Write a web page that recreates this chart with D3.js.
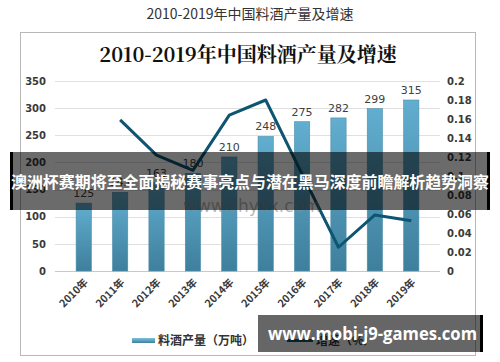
<!DOCTYPE html>
<html>
<head>
<meta charset="utf-8">
<script src="https://cdn.jsdelivr.net/npm/d3@7"></script>
<style>
  body { margin: 0; background: #fff; }
  svg { display: block; }
</style>
</head>
<body>
<div id="chart"></div>
<script>
// chart data
var years = ['2010年', '2011年', '2012年', '2013年', '2014年', '2015年', '2016年', '2017年', '2018年', '2019年'];
var output = [125, 145, 163, 180, 210, 248, 275, 282, 299, 315];
var growth = [null, 0.159, 0.122, 0.106, 0.164, 0.180, 0.102, 0.025, 0.059, 0.053];
var leftTicks = [0, 50, 100, 150, 200, 250, 300, 350];
var rightTicks = [0, 0.02, 0.04, 0.06, 0.08, 0.1, 0.12, 0.14, 0.16, 0.18, 0.2];

var W = 500, H = 362;
var plot = {left: 55, right: 440, top: 81, bottom: 271};

var svg = d3.select('#chart').append('svg')
    .attr('width', W)
    .attr('height', H);

var defs = svg.append('defs');
var grad = defs.append('linearGradient')
    .attr('id', 'barGrad')
    .attr('x1', 0).attr('y1', 0).attr('x2', 0).attr('y2', 1);
grad.append('stop').attr('offset', '0%').attr('stop-color', '#62aed0');
grad.append('stop').attr('offset', '100%').attr('stop-color', '#3e7f9c');
var lgrad = defs.append('linearGradient')
    .attr('id', 'legGrad')
    .attr('x1', 0).attr('y1', 0).attr('x2', 0).attr('y2', 1);
lgrad.append('stop').attr('offset', '0%').attr('stop-color', '#7fc0dc');
lgrad.append('stop').attr('offset', '100%').attr('stop-color', '#3e7f9c');

// outer title
svg.append('text')
    .attr('x', 250).attr('y', 19)
    .attr('text-anchor', 'middle')
    .attr('font-family', 'Noto Sans CJK SC')
    .attr('font-size', '14px')
    .attr('fill', '#333')
    .text('2010-2019年中国料酒产量及增速');

// chart frame
svg.append('rect')
    .attr('x', 20.5).attr('y', 32.5)
    .attr('width', 455).attr('height', 323)
    .attr('fill', '#fff')
    .attr('stroke', '#b8b8b8');

// inner title
svg.append('text')
    .attr('x', 248).attr('y', 62)
    .attr('text-anchor', 'middle')
    .attr('font-family', 'Noto Serif CJK SC, Noto Sans CJK SC')
    .attr('font-weight', 'bold')
    .attr('font-size', '20px')
    .attr('fill', '#111')
    .text('2010-2019年中国料酒产量及增速');

// scales
var x = d3.scaleBand().domain(years).range([plot.left, plot.right]).padding(0.58);
var y = d3.scaleLinear().domain([0, 350]).range([plot.bottom, plot.top]);
var y2 = d3.scaleLinear().domain([0, 0.2]).range([plot.bottom, plot.top]);

// gridlines
svg.append('g').selectAll('line')
    .data(leftTicks)
  .enter().append('line')
    .attr('x1', plot.left).attr('x2', plot.right)
    .attr('y1', function(d) { return Math.round(y(d)) + 0.5; })
    .attr('y2', function(d) { return Math.round(y(d)) + 0.5; })
    .attr('stroke', function(d) { return d === 0 ? '#c8c8c8' : '#e0e0e0'; });

// left axis
var yAxis = d3.axisLeft(y).tickValues(leftTicks).tickSize(0).tickPadding(0);
var gl = svg.append('g')
    .attr('transform', 'translate(46,0)')
    .call(yAxis);
gl.select('.domain').remove();
gl.selectAll('text')
    .attr('font-family', 'DejaVu Sans')
    .attr('font-size', '10px')
    .attr('font-weight', 'bold')
    .attr('fill', '#3a3a3a');

// right axis
var y2Axis = d3.axisRight(y2).tickValues(rightTicks).tickSize(0).tickPadding(0)
    .tickFormat(function(d) { return d3.format('~g')(d); });
var gr = svg.append('g')
    .attr('transform', 'translate(447,0)')
    .call(y2Axis);
gr.select('.domain').remove();
gr.selectAll('text')
    .attr('font-family', 'DejaVu Sans')
    .attr('font-size', '10px')
    .attr('font-weight', 'bold')
    .attr('fill', '#3a3a3a');

// bars
svg.selectAll('rect.bar')
    .data(output)
  .enter().append('rect')
    .attr('class', 'bar')
    .attr('x', function(d, i) { return x(years[i]); })
    .attr('y', function(d) { return y(d); })
    .attr('width', x.bandwidth())
    .attr('height', function(d) { return plot.bottom - y(d); })
    .attr('fill', 'url(#barGrad)')
    .attr('stroke', '#4d8fab')
    .attr('stroke-width', 0.6);

// bar value labels
svg.selectAll('text.value')
    .data(output)
  .enter().append('text')
    .attr('class', 'value')
    .attr('x', function(d, i) { return x(years[i]) + x.bandwidth() / 2; })
    .attr('y', function(d) { return y(d) - 6; })
    .attr('text-anchor', 'middle')
    .attr('font-family', 'DejaVu Sans')
    .attr('font-size', '11px')
    .attr('fill', '#404040')
    .text(function(d) { return d; });

// growth line
var line = d3.line()
    .defined(function(d) { return d != null; })
    .x(function(d, i) { return x(years[i]) + x.bandwidth() / 2; })
    .y(function(d) { return y2(d); });
svg.append('path')
    .datum(growth)
    .attr('d', line)
    .attr('fill', 'none')
    .attr('stroke', '#0d5570')
    .attr('stroke-width', 3)
    .attr('stroke-linejoin', 'round');

// x labels
svg.selectAll('text.year')
    .data(years)
  .enter().append('text')
    .attr('class', 'year')
    .attr('transform', function(d) {
      return 'translate(' + (x(d) + x.bandwidth() / 2 + 5) + ',' + (plot.bottom + 12) + ') rotate(-45)';
    })
    .attr('text-anchor', 'end')
    .attr('font-family', 'Noto Sans CJK SC')
    .attr('font-weight', 'bold')
    .attr('font-size', '10.5px')
    .attr('fill', '#3a3a3a')
    .text(function(d) { return d; });

// legend
var leg = svg.append('g');
leg.append('rect')
    .attr('x', 132).attr('y', 338)
    .attr('width', 23).attr('height', 5)
    .attr('fill', 'url(#legGrad)');
leg.append('text')
    .attr('x', 158).attr('y', 345)
    .attr('font-family', 'Noto Sans CJK SC')
    .attr('font-weight', 'bold')
    .attr('font-size', '12px')
    .attr('fill', '#333')
    .text('料酒产量（万吨）');
leg.append('line')
    .attr('x1', 287).attr('x2', 313)
    .attr('y1', 340.5).attr('y2', 340.5)
    .attr('stroke', '#0d5570')
    .attr('stroke-width', 3);
leg.append('text')
    .attr('x', 316).attr('y', 345)
    .attr('font-family', 'Noto Sans CJK SC')
    .attr('font-weight', 'bold')
    .attr('font-size', '12px')
    .attr('fill', '#333')
    .text('增速（%）');

// source watermark
svg.append('text')
    .attr('x', 183).attr('y', 212)
    .attr('font-family', 'DejaVu Sans')
    .attr('font-size', '17px')
    .attr('fill', '#8a8a8a')
    .attr('fill-opacity', 0.6)
    .text('www.chyxx.com');

// overlay banner
svg.append('rect')
    .attr('x', 10).attr('y', 152)
    .attr('width', 480).attr('height', 58)
    .attr('fill', '#000')
    .attr('fill-opacity', 0.58);
svg.append('rect').attr('x', 10).attr('y', 152).attr('width', 3).attr('height', 58).attr('fill', '#000');
svg.append('rect').attr('x', 487).attr('y', 152).attr('width', 3).attr('height', 58).attr('fill', '#000');
svg.append('text')
    .attr('x', 250).attr('y', 188)
    .attr('text-anchor', 'middle')
    .attr('font-family', 'Noto Sans CJK SC')
    .attr('font-weight', 'bold')
    .attr('font-size', '15.8px')
    .attr('textLength', 478)
    .attr('lengthAdjust', 'spacingAndGlyphs')
    .attr('fill', '#fff')
    .text('澳洲杯赛期将至全面揭秘赛事亮点与潜在黑马深度前瞻解析趋势洞察');

// bottom banner
svg.append('rect')
    .attr('x', 258).attr('y', 315)
    .attr('width', 222).attr('height', 37)
    .attr('fill', '#000')
    .attr('fill-opacity', 0.6);
svg.append('rect').attr('x', 480).attr('y', 315).attr('width', 3).attr('height', 37).attr('fill', '#000');
svg.append('text')
    .attr('x', 268).attr('y', 340)
    .attr('font-family', 'Open Sans')
    .attr('font-weight', 'bold')
    .attr('font-size', '18px')
    .attr('textLength', 209)
    .attr('lengthAdjust', 'spacingAndGlyphs')
    .attr('fill', '#fff')
    .text('www.mobi-j9-games.com');
</script>
</body>
</html>
